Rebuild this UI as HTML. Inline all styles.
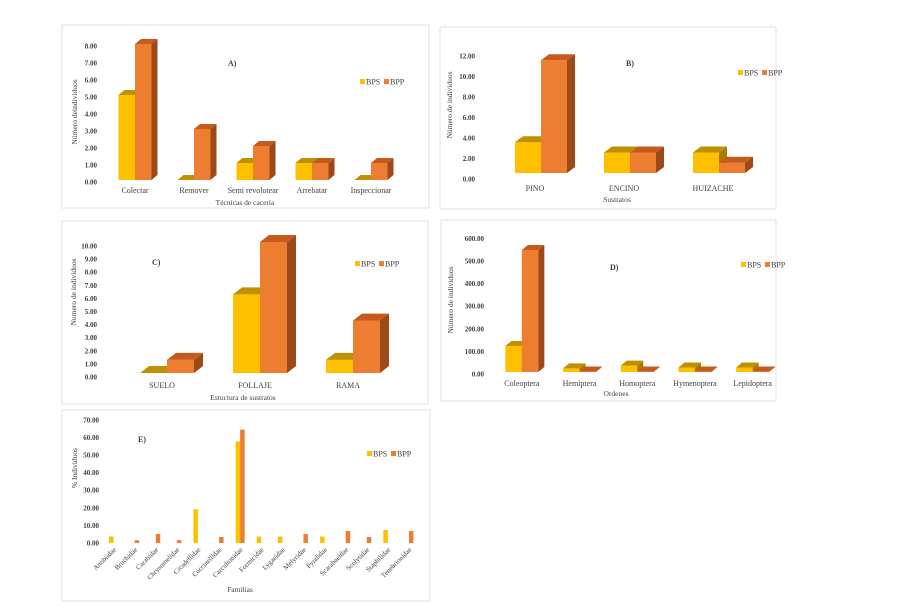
<!DOCTYPE html>
<html><head><meta charset="utf-8"><style>
html,body{margin:0;padding:0;background:#fff;width:919px;height:605px;overflow:hidden}
svg text{font-family:"Liberation Serif",serif;fill:#404040}
.tk{font-size:7px;font-weight:bold;text-anchor:end}
.cat{font-size:8px;text-anchor:middle}
.ttl{font-size:8px;font-weight:bold}
.lg{font-size:8px}
.ax{font-size:7.5px;text-anchor:middle}
</style></head><body>
<svg id="fig" width="919" height="605" viewBox="0 0 919 605" xmlns="http://www.w3.org/2000/svg">
<rect x="62" y="25" width="367" height="183" fill="none" stroke="#e0e0e0"/>
<rect x="440" y="27" width="336" height="182" fill="none" stroke="#e0e0e0"/>
<rect x="62" y="221" width="366" height="183" fill="none" stroke="#e0e0e0"/>
<rect x="441" y="220" width="335" height="181" fill="none" stroke="#e0e0e0"/>
<rect x="62" y="410" width="368" height="191" fill="none" stroke="#e0e0e0"/>
</svg>
<script>
// Panel A
const catsA=["Colectar","Remover","Semi revolotear","Arrebatar","Inspeccionar"];
const bpsA=[5,0,1,1,0];
const bppA=[8,3,2,1,1];
const ticksA=[0,1,2,3,4,5,6,7,8];
// Panel B
const catsB=["PINO","ENCINO","HUIZACHE"];
const bpsB=[3,2,2];
const bppB=[11,2,1];
const ticksB=[0,2,4,6,8,10,12];
// Panel C
const catsC=["SUELO","FOLLAJE","RAMA"];
const bpsC=[0,6,1];
const bppC=[1,10,4];
const ticksC=[0,1,2,3,4,5,6,7,8,9,10];
// Panel D
const catsD=["Coleoptera","Hemiptera","Homoptera","Hymenoptera","Lepidoptera"];
const bpsD=[115,16,28,20,20];
const bppD=[540,2,2,2,2];
const ticksD=[0,100,200,300,400,500,600];
// Panel E
const catsE=["Anobiidae","Bruchidae","Carabidae","Chrysomelidae","Cicadellidae","Coccinellidae","Carculionidae","Formicidae","Lygaeidae","Melyridae","Pyralidae","Scarabaeidae","Scolytidae","Staphilidae","Tenebrionidae"];
const bpsE=[3.7,0,0,0,19.2,0,57.7,3.7,3.7,0,3.7,0,0,7.4,0];
const bppE=[0,1.6,5.1,1.6,0,3.4,64.4,0,0,5.1,0,6.8,3.4,0,6.8];
const ticksE=[0,10,20,30,40,50,60,70];

const NS="http://www.w3.org/2000/svg";
const svg=document.getElementById('fig');
function mk(tag,attrs,txt){const e=document.createElementNS(NS,tag);for(const k in attrs)e.setAttribute(k,attrs[k]);if(txt!==undefined)e.textContent=txt;svg.appendChild(e);return e;}
const COL={bps:{f:"#FFC000",t:"#BF9000",s:"#A67C00"},bpp:{f:"#ED7D31",t:"#C55A1C",s:"#9C4A1A"}};

function bar3d(x,yt,w,base,dx,dy,c,name){
  const g=mk('g',{});
  
  
  const r=document.createElementNS(NS,'rect');
  r.setAttribute('x',x);r.setAttribute('y',yt);r.setAttribute('width',w);r.setAttribute('height',Math.max(0,base-yt));r.setAttribute('fill',c.f);g.appendChild(r);
  const s=document.createElementNS(NS,'polygon');
  s.setAttribute('points',`${x+w},${yt} ${x+w+dx},${yt-dy} ${x+w+dx},${base-dy} ${x+w},${base}`);s.setAttribute('fill',c.s);g.appendChild(s);
  const t=document.createElementNS(NS,'polygon');
  t.setAttribute('points',`${x},${yt} ${x+dx},${yt-dy} ${x+w+dx},${yt-dy} ${x+w},${yt}`);t.setAttribute('fill',c.t);g.appendChild(t);
}

function panel3d(p,cats,bps,bpp,ticks){
  const yB=v=>p.base-v*p.scale;
  const yT=v=>p.tick0-v*p.scale;
  ticks.forEach(v=>{
    const t=mk('text',{x:p.tickX,y:yT(v)+2.5,class:'tk'},v.toFixed(2));
    
    
  });
  cats.forEach((c,i)=>{
    const cx=p.x0+(i+0.5)*p.band;
    bar3d(cx-p.w,yB(bps[i]),p.w,p.base,p.dx,p.dy,COL.bps,'bar-bps-'+i);
    bar3d(cx,yB(bpp[i]),p.w,p.base,p.dx,p.dy,COL.bpp,'bar-bpp-'+i);
    const t=mk('text',{x:cx+p.lblOff,y:p.lblY,class:'cat'},c);
    
    
  });
  common(p);
}
function common(p){
  let t=mk('text',{x:p.tx,y:p.ty,class:'ttl'},p.title);
  
  
  let r=mk('rect',{x:p.lx,y:p.ly-3,width:5,height:5,fill:COL.bps.f});
  
  
  t=mk('text',{x:p.lx+6,y:p.ly+2.5,class:'lg'},'BPS');
  
  
  r=mk('rect',{x:p.lx+24,y:p.ly-3,width:5,height:5,fill:COL.bpp.f});
  
  
  t=mk('text',{x:p.lx+30,y:p.ly+2.5,class:'lg'},'BPP');
  
  
  t=mk('text',{x:p.xtX,y:p.xtY,class:'ax'},p.xt);
  
  
  t=mk('text',{x:0,y:0,class:'ax',transform:`translate(${p.ytX},${p.ytY}) rotate(-90)`},p.yt);
  
  
}

panel3d({base:180,tick0:182,scale:17,tickX:97,x0:105.5,band:59,w:16.5,dx:6,dy:5,lblY:193,lblOff:0,
  title:'A)',tx:228,ty:66,lx:360,ly:82,xt:'Técnicas de cacería',xtX:245,xtY:205,yt:'Número deindividuos',ytX:77,ytY:112},catsA,bpsA,bppA,ticksA);
panel3d({base:173,tick0:179,scale:10.25,tickX:475,x0:496.5,band:89,w:26,dx:8,dy:6,lblY:191,lblOff:-6,
  title:'B)',tx:626,ty:66,lx:738,ly:73,xt:'Sustratos',xtX:617,xtY:202,yt:'Número de individuos',ytX:452,ytY:105},catsB,bpsB,bppB,ticksB);
panel3d({base:373,tick0:377,scale:13.1,tickX:97,x0:120.5,band:93,w:27,dx:9,dy:7,lblY:388,lblOff:-5,
  title:'C)',tx:152,ty:265,lx:355,ly:264,xt:'Estuctura de sustratos',xtX:243,xtY:400,yt:'Numero de individuos',ytX:76,ytY:292},catsC,bpsC,bppC,ticksC);
panel3d({base:372,tick0:374,scale:0.226,tickX:484,x0:493,band:57.7,w:16.5,dx:6,dy:5,lblY:386,lblOff:0,
  title:'D)',tx:610,ty:270,lx:741,ly:265,xt:'Ordenes',xtX:616,xtY:396,yt:'Número de individuos',ytX:453,ytY:300},catsD,bpsD,bppD,ticksD);

// Panel E (flat bars)
(function(){
  const p={base:543,scale:1.76,tickX:99,x0:103,band:21.1,w:4.5,
    title:'E)',tx:138,ty:442,lx:367,ly:454,xt:'Familias',xtX:240,xtY:592,yt:'% Individuos',ytX:77,ytY:468};
  const y=v=>p.base-v*p.scale;
  ticksE.forEach(v=>{
    const t=mk('text',{x:p.tickX,y:y(v)+2.5,class:'tk'},v.toFixed(2));
    
    
  });
  catsE.forEach((c,i)=>{
    const cx=p.x0+(i+0.5)*p.band;
    let r=mk('rect',{x:cx-p.w,y:y(bpsE[i]),width:p.w,height:bpsE[i]*p.scale,fill:COL.bps.f});
    
    
    r=mk('rect',{x:cx,y:y(bppE[i]),width:p.w,height:bppE[i]*p.scale,fill:COL.bpp.f});
    
    
    const t=mk('text',{x:0,y:0,style:'font-size:7px;text-anchor:end',transform:`translate(${cx+3},${p.base+7}) rotate(-45)`},c);
    
    
  });
  common(p);
})();
</script>
</body></html>
